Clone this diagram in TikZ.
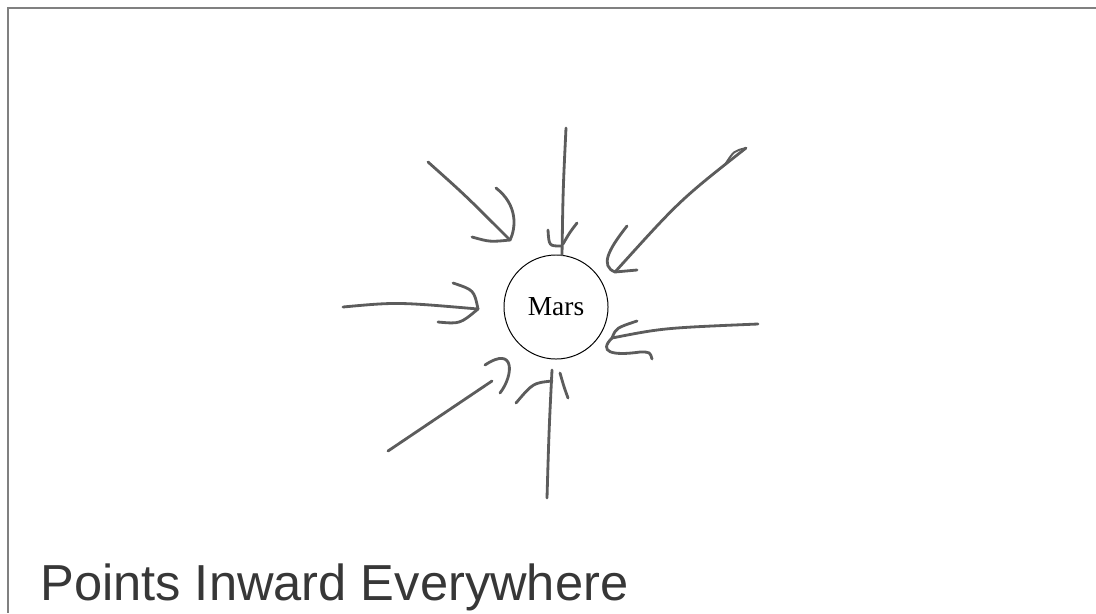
\documentclass[tikz,border=0pt]{standalone}
\usepackage{fontspec}
\setmainfont{Liberation Serif}
\newfontfamily\handfont{Liberation Sans}
\usetikzlibrary{calc}
\definecolor{pencil}{gray}{0.36}

\begin{document}
\begin{tikzpicture}[x=0.025cm, y=-0.025cm,
    hand/.style={draw=pencil, line width=2pt, line cap=round, line join=round}]
            \useasboundingbox(0,0)rectangle(1096,613);
            % page edge
            \path[draw=gray, line width=0.8pt](1096,8)to(8,8)to(8,613);
            % planet
            \node[circle, draw, line width=0.7pt, inner sep=0pt, minimum size=2.6cm,
                font=\fontsize{19.5}{23}\selectfont](mars)at(556,307){Mars};
            % tails and tips of the arrows
            \coordinate(NWtail)at(428,162);
            \coordinate(NWtip)at(510,240);
            \coordinate(Ntail)at(566,128);
            \coordinate(Ntip)at(562,255);
            \coordinate(NEtail)at(746,148);
            \coordinate(NEtip)at(615,272);
            \coordinate(Wtail)at(343,307);
            \coordinate(Wtip)at(478,309);
            \coordinate(Etail)at(758,324);
            \coordinate(Etip)at(612,338);
            \coordinate(SWtail)at(388,451);
            \coordinate(SWtip)at(492,381);
            \coordinate(Stail)at(547,498);
            \coordinate(Stip)at(552,370);
            % north-west
            \path[hand](NWtail)..controls(465,195)..(NWtip);
            \path[hand](496,188)..controls(518,205)and(516,228)..(NWtip);
            \path[hand](472,237)..controls(490,242)..(NWtip);
            % north
            \path[hand](Ntail)..controls(563,190)..(Ntip);
            \path[hand](548,230)..controls(549,246)..(561,246);
            \path[hand](577,223)..controls(570,232)..(563,244);
            % north-east
            \path[hand, line width=1.4pt](NEtail)..controls(734,151)..(726,163);
            \path[hand](NEtail)..controls(680,200)..(NEtip);
            \path[hand](627,226)..controls(608,250)and(600,266)..(NEtip);
            \path[hand](NEtip)to(637,270);
            % west
            \path[hand](Wtail)..controls(397,302)..(Wtip);
            \path[hand](453,283)..controls(474,290)..(Wtip);
            \path[hand](438,322)..controls(460,324)..(Wtip);
            % east
            \path[hand](Etail)..controls(663,328)..(Etip);
            \path[hand](637,321)..controls(616,328)..(Etip);
            \path[hand](Etip)..controls(598,352)and(612,356)..(640,352)..controls(650,352)..(652,359);
            % south-west
            \path[hand](SWtail)to(SWtip);
            \path[hand](485,365)..controls(515,345)and(514,375)..(500,393);
            % south
            \path[hand](Stail)..controls(549,430)..(Stip);
            \path[hand](516,403)..controls(533,383)..(552,381);
            \path[hand](560,373)..controls(564,387)..(568,398);
            % caption
            \node[anchor=base west, inner sep=0pt, text=pencil!60!black,
                font=\handfont\fontsize{36}{40}\selectfont](caption)at(40,600){Points Inward Everywhere};
\end{tikzpicture}
\end{document}
